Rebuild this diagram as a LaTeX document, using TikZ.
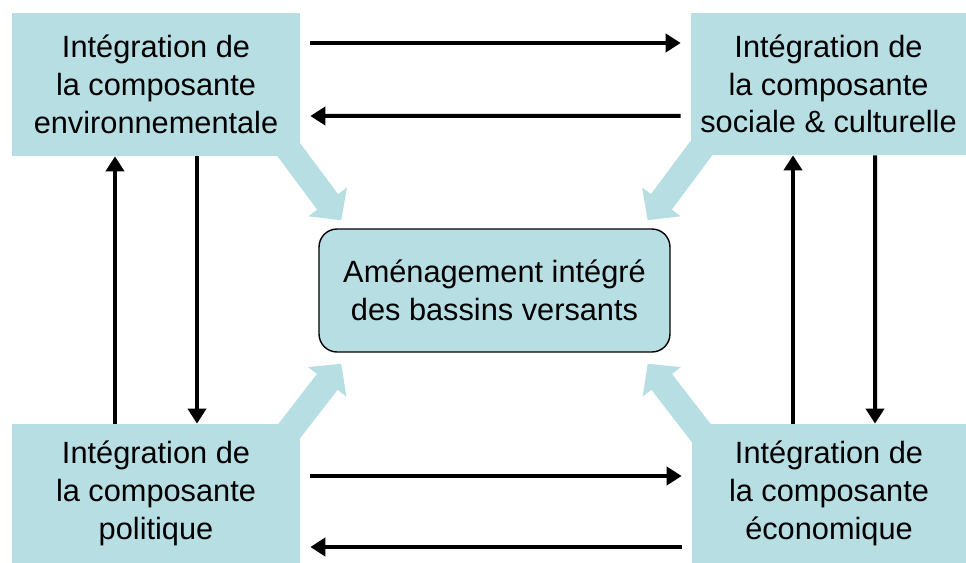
\documentclass[tikz,border=0pt]{standalone}
\usepackage{fontspec}
\setmainfont{Liberation Sans}
\usetikzlibrary{arrows.meta,calc,backgrounds}
\definecolor{bleuclair}{HTML}{B7DEE3}
\begin{document}
\begin{tikzpicture}[x=0.02cm, y=-0.02cm,
		bloc/.style={fill=bleuclair, align=center, inner sep=0pt, font=\fontsize{17.5}{21.5}\selectfont},
		lien/.style={line width=0.08cm, -{Triangle[width=0.36cm,length=0.3cm]}},
		fleche/.style={bleuclair, line width=0.52cm, -{Triangle[width=0.94cm,length=0.46cm]}}]
	\useasboundingbox (0,0) rectangle (966,563);
	\node[bloc, minimum width=5.76cm, minimum height=2.86cm] (env) at (156,84.5) {Intégration de\\la composante\\environnementale};
	\node[bloc, minimum width=5.50cm, minimum height=2.84cm] (soc) at (828.5,84) {Intégration de\\la composante\\sociale \& culturelle};
	\node[bloc, minimum width=5.76cm, minimum height=2.78cm] (pol) at (156,493.5) {Intégration de\\la composante\\politique};
	\node[bloc, minimum width=5.48cm, minimum height=2.78cm] (eco) at (829,493.5) {Intégration de\\la composante\\économique};
	\node[bloc, draw=black, line width=0.8pt, rounded corners=0.36cm, minimum width=7.02cm, minimum height=2.46cm] (abv) at (494.5,290.5) {Aménagement intégré\\des bassins versants};
	% grosses fleches vers le centre
	\begin{scope}[on background layer]
		\draw[fleche] ($(env.south east)+(-20,-18)$) -- ($(abv.north west)+(23,-8)$);
		\draw[fleche] ($(soc.south west)+(18,-17)$) -- ($(abv.north east)+(-23,-8)$);
		\draw[fleche] ($(pol.north east)+(-20,19)$) -- ($(abv.south west)+(23,11)$);
		\draw[fleche] ($(eco.north west)+(17,19)$) -- ($(abv.south east)+(-23,11)$);
	\end{scope}
	% liens entre les composantes
	\draw[lien] ($(env.east)+(10,-41.5)$) -- ($(soc.west)+(-10,-41)$);
	\draw[lien] ($(soc.west)+(-10,32)$) -- ($(env.east)+(10,31.5)$);
	\draw[lien] ($(pol.east)+(10,-17.5)$) -- ($(eco.west)+(-10,-17.5)$);
	\draw[lien] ($(eco.west)+(-10,53.5)$) -- ($(pol.east)+(10,53.5)$);
	\draw[lien] ($(pol.north)+(-41,0)$) -- ($(env.south)+(-41,0)$);
	\draw[lien] ($(env.south)+(41,0)$) -- ($(pol.north)+(41,0)$);
	\draw[lien] ($(eco.north)+(-36,0)$) -- ($(soc.south)+(-35.5,0)$);
	\draw[lien] ($(soc.south)+(46.5,0)$) -- ($(eco.north)+(46,0)$);
\end{tikzpicture}
\end{document}
